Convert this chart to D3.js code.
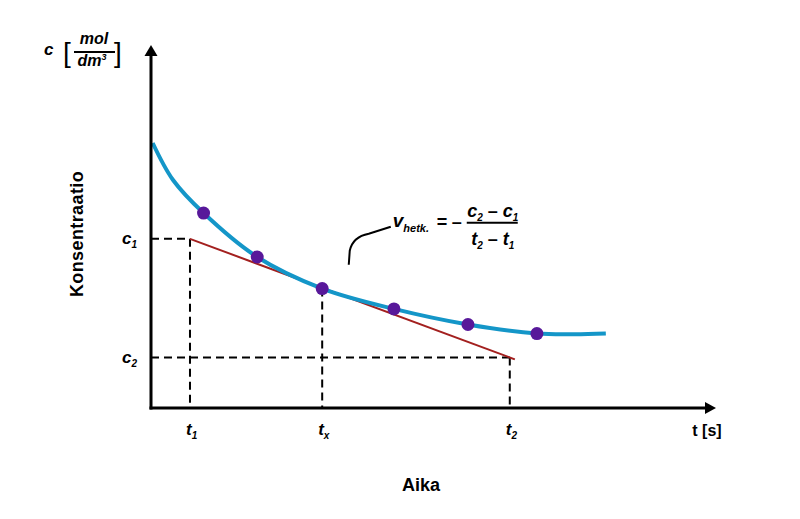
<!DOCTYPE html>
<html>
<head>
<meta charset="utf-8">
<script src="https://cdn.jsdelivr.net/npm/d3@7"></script>
<style>
  html, body { margin: 0; padding: 0; background: #fff; }
  svg { display: block; font-family: "Liberation Sans", Arial, sans-serif; }
</style>
</head>
<body>
<svg id="chart" width="800" height="519"></svg>
<script>
// ---- data (time in s, concentration in mol/dm3, arbitrary units) ----
const curveT = [0.3, 3.9, 9.3, 18.8, 30.3, 43.0, 56.1, 68.3, 75.0, 80.5];
const curveC = [0.730, 0.628, 0.537, 0.416, 0.329, 0.273, 0.230, 0.205, 0.203, 0.205];
const pointT = [9.3, 18.8, 30.3, 43.0, 56.1, 68.3];
const pointC = [0.537, 0.416, 0.329, 0.273, 0.230, 0.205];
const tangentT = [6.9, 64.4];
const tangentC = [0.466, 0.134];
const tickT = [6.9, 30.3, 63.5];
const tickTLabels = ["t", "t", "t"];
const tickTSubs = ["1", "x", "2"];
const tickTFrom = [0.466, 0.329, 0.139];   // top of dashed drop lines
const tickC = [0.466, 0.139];
const tickCLabels = ["c", "c"];
const tickCSubs = ["1", "2"];
const tickCTo = [6.9, 63.5];                // right end of dashed lines
const annotationAnchor = [35.0, 0.40];

const svg = d3.select("#chart");
const W = 800, H = 519;
svg.append("rect").attr("width", W).attr("height", H).attr("fill", "#fff");

const x = d3.scaleLinear().domain([0, 100]).range([151, 716]);
const y = d3.scaleLinear().domain([0, 1]).range([408, 45]);

// dashed guide lines
const dash = "8,5";
tickC.forEach((c, i) => {
  svg.append("line")
    .attr("x1", x(0)).attr("x2", x(tickCTo[i]))
    .attr("y1", y(c)).attr("y2", y(c))
    .attr("stroke", "#000").attr("stroke-width", 2).attr("stroke-dasharray", dash);
});
tickT.forEach((t, i) => {
  svg.append("line")
    .attr("x1", x(t)).attr("x2", x(t))
    .attr("y1", y(tickTFrom[i])).attr("y2", y(0))
    .attr("stroke", "#000").attr("stroke-width", 2).attr("stroke-dasharray", dash);
});

// tangent line
svg.append("line")
  .attr("x1", x(tangentT[0])).attr("y1", y(tangentC[0]))
  .attr("x2", x(tangentT[1])).attr("y2", y(tangentC[1]))
  .attr("stroke", "#a3201f").attr("stroke-width", 2);

// concentration curve
const curveData = curveT.map((t, i) => [t, curveC[i]]);
svg.append("path")
  .datum(curveData)
  .attr("d", d3.line().x(d => x(d[0])).y(d => y(d[1])).curve(d3.curveCatmullRom.alpha(0.5)))
  .attr("fill", "none").attr("stroke", "#1496c8").attr("stroke-width", 4)
  .attr("stroke-linecap", "butt");

// points
svg.selectAll("circle.pt")
  .data(pointT.map((t, i) => [t, pointC[i]]))
  .enter().append("circle")
  .attr("class", "pt")
  .attr("cx", d => x(d[0])).attr("cy", d => y(d[1]))
  .attr("r", 6.5).attr("fill", "#58189a");

// axes
const x0 = x(0), y0 = y(0), xEnd = x(100), yEnd = y(1);
svg.append("line").attr("x1", x0).attr("x2", x0).attr("y1", y0 + 1.5).attr("y2", yEnd + 8)
  .attr("stroke", "#000").attr("stroke-width", 3);
svg.append("line").attr("x1", x0 - 1.5).attr("x2", xEnd - 8).attr("y1", y0).attr("y2", y0)
  .attr("stroke", "#000").attr("stroke-width", 3);
svg.append("path")
  .attr("d", `M${x0},${yEnd} L${x0 - 6.5},${yEnd + 11} L${x0 + 6.5},${yEnd + 11} Z`)
  .attr("fill", "#000");
svg.append("path")
  .attr("d", `M${xEnd},${y0} L${xEnd - 11},${y0 - 6} L${xEnd - 11},${y0 + 6} Z`)
  .attr("fill", "#000");

// tick labels
const lblStyle = sel => sel.attr("font-weight", "bold").attr("font-style", "italic").attr("fill", "#000");
tickT.forEach((t, i) => {
  const tx = svg.append("text").attr("x", x(t) - 4).attr("y", y0 + 27).attr("font-size", 17).call(lblStyle);
  tx.append("tspan").text(tickTLabels[i]);
  tx.append("tspan").attr("font-size", 10).attr("dy", 4).text(tickTSubs[i]);
});
tickC.forEach((c, i) => {
  const tx = svg.append("text").attr("x", x0 - 29).attr("y", y(c) + 5).attr("font-size", 17).call(lblStyle);
  tx.append("tspan").text(tickCLabels[i]);
  tx.append("tspan").attr("font-size", 10).attr("dy", 4).text(tickCSubs[i]);
});

// axis titles
svg.append("text").attr("x", 707).attr("y", 436).attr("text-anchor", "middle")
  .attr("font-size", 16).attr("font-weight", "bold").text("t [s]");
svg.append("text").attr("x", 421).attr("y", 491).attr("text-anchor", "middle")
  .attr("font-size", 18).attr("font-weight", "bold").text("Aika");
svg.append("text").attr("transform", "translate(83,234) rotate(-90)").attr("text-anchor", "middle")
  .attr("font-size", 18).attr("letter-spacing", 0.4).attr("font-weight", "bold").text("Konsentraatio");

// y unit label c [mol/dm3]
const u = svg.append("g").attr("font-weight", "bold").attr("font-style", "italic");
u.append("text").attr("x", 44).attr("y", 55).attr("font-size", 17).text("c");
svg.append("text").attr("x", 63).attr("y", 62).attr("font-size", 28).text("[");
svg.append("text").attr("x", 114).attr("y", 62).attr("font-size", 28).text("]");
u.append("text").attr("x", 94).attr("y", 44).attr("text-anchor", "middle").attr("font-size", 16).text("mol");
svg.append("line").attr("x1", 74).attr("x2", 115).attr("y1", 52).attr("y2", 52)
  .attr("stroke", "#000").attr("stroke-width", 2);
const dm = u.append("text").attr("x", 92).attr("y", 66).attr("text-anchor", "middle").attr("font-size", 16);
dm.append("tspan").text("dm");
dm.append("tspan").attr("font-size", 9).attr("dy", -6).text("3");

// formula annotation
const ax = x(annotationAnchor[0]), ay = y(annotationAnchor[1]);
svg.append("path")
  .attr("d", `M${ax},${ay + 2} L${ax + 1},${ay - 12} Q${ax + 4},${ay - 26} ${ax + 20},${ay - 29} L${ax + 42},${ay - 36}`)
  .attr("fill", "none").attr("stroke", "#000").attr("stroke-width", 2);
const f = svg.append("g").attr("font-weight", "bold").attr("fill", "#000");
const v = f.append("text").attr("x", ax + 44).attr("y", ay - 36).attr("font-size", 19).attr("font-style", "italic");
v.append("tspan").text("v");
v.append("tspan").attr("font-size", 11).attr("dy", 5).text("hetk.");
f.append("text").attr("x", ax + 88).attr("y", ay - 35).attr("font-size", 18).text("=");
f.append("text").attr("x", ax + 103).attr("y", ay - 35).attr("font-size", 18).text("\u2013");
f.append("line").attr("x1", ax + 118).attr("x2", ax + 169).attr("y1", ay - 40).attr("y2", ay - 40)
  .attr("stroke", "#000").attr("stroke-width", 2);
const num = f.append("text").attr("x", ax + 144).attr("y", ay - 46).attr("text-anchor", "middle").attr("font-size", 18);
num.append("tspan").attr("font-style", "italic").text("c");
num.append("tspan").attr("font-style", "italic").attr("font-size", 10).attr("dy", 4).text("2");
num.append("tspan").attr("dy", -4).text(" \u2013 ");
num.append("tspan").attr("font-style", "italic").text("c");
num.append("tspan").attr("font-style", "italic").attr("font-size", 10).attr("dy", 4).text("1");
const den = f.append("text").attr("x", ax + 144).attr("y", ay - 18).attr("text-anchor", "middle").attr("font-size", 18);
den.append("tspan").attr("font-style", "italic").text("t");
den.append("tspan").attr("font-style", "italic").attr("font-size", 10).attr("dy", 4).text("2");
den.append("tspan").attr("dy", -4).text(" \u2013 ");
den.append("tspan").attr("font-style", "italic").text("t");
den.append("tspan").attr("font-style", "italic").attr("font-size", 10).attr("dy", 4).text("1");
</script>
</body>
</html>
